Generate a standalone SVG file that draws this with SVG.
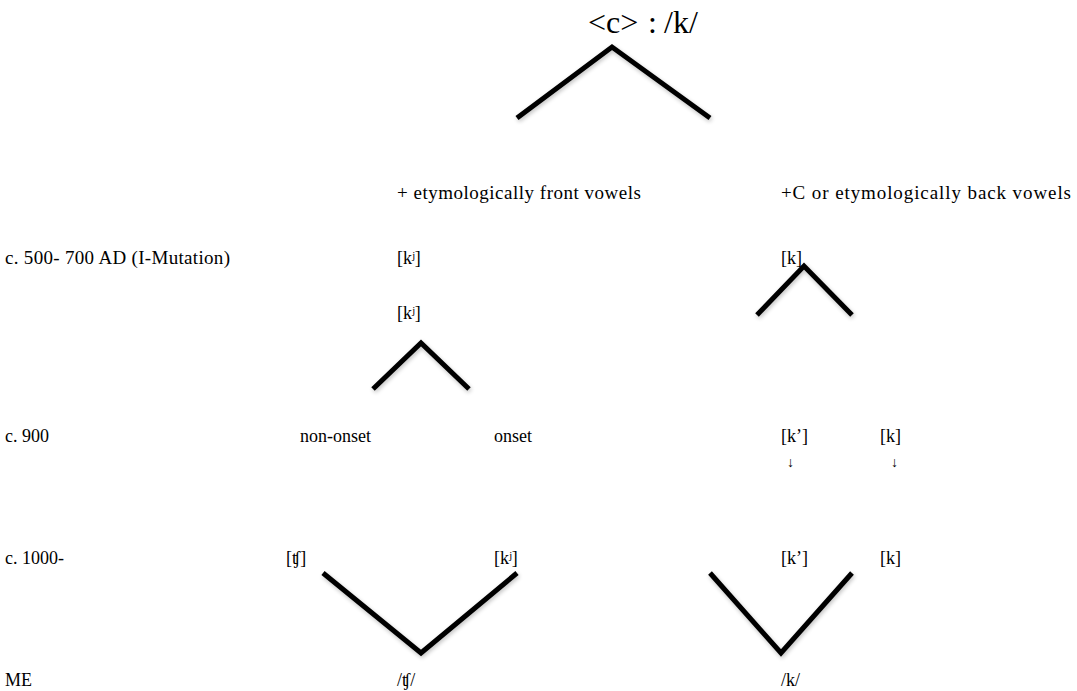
<svg xmlns="http://www.w3.org/2000/svg" width="1077" height="691" viewBox="0 0 1077 691">
<defs>
<filter id="sh" x="-20%" y="-20%" width="140%" height="140%"><feGaussianBlur in="SourceAlpha" stdDeviation="2"/><feOffset dx="1" dy="2"/><feComponentTransfer><feFuncA type="linear" slope="0.25"/></feComponentTransfer><feMerge><feMergeNode/><feMergeNode in="SourceGraphic"/></feMerge></filter>
</defs>
<style>
text{font-family:"Liberation Serif","Times New Roman",serif;font-size:18px;fill:#000}
.lg{font-size:19px}
.big{font-size:32px}
.arr{font-size:14px}
.ln{fill:none;stroke:#000;stroke-width:5;stroke-linejoin:miter;filter:url(#sh)}
</style>
<rect width="1077" height="691" fill="#fff"/>
<g id="connectors">
<polyline class="ln" points="517,118 612,47 710,118"/>
<polyline class="ln" points="757,315 804,266 852,315"/>
<polyline class="ln" points="373,389 421,343 469,389"/>
<polyline class="ln" points="323,573 421,653 517,573"/>
<polyline class="ln" points="710,573 781,653 852,573"/>
</g>
<g id="title"><text class="big" y="33"><tspan x="588">&lt;c&gt;</tspan><tspan x="648">:</tspan><tspan x="664">/k/</tspan></text></g>
<g id="front"><text class="lg" x="397" y="199" textLength="244" lengthAdjust="spacing">+ etymologically front vowels</text></g>
<g id="back"><text class="lg" x="781" y="199" textLength="290" lengthAdjust="spacing">+C or etymologically back vowels</text></g>
<g id="row1">
<text class="lg" x="5" y="264" textLength="225" lengthAdjust="spacing">c. 500- 700 AD (I-Mutation)</text>
<text x="397" y="264">[kʲ]</text>
<text x="781" y="264">[k]</text>
</g>
<g id="kj2"><text x="397" y="319">[kʲ]</text></g>
<g id="row900">
<text x="5" y="442">c. 900</text>
<text x="300" y="442">non-onset</text>
<text x="494" y="442">onset</text>
<text x="781" y="442">[k’]</text>
<text x="880" y="442">[k]</text>
<text class="arr" x="787" y="467">↓</text>
<text class="arr" x="891" y="467">↓</text>
</g>
<g id="row1000">
<text x="5" y="564">c. 1000-</text>
<text x="286" y="564">[ʧ]</text>
<text x="494" y="564">[kʲ]</text>
<text x="781" y="564">[k’]</text>
<text x="880" y="564">[k]</text>
</g>
<g id="rowME">
<text x="5" y="686">ME</text>
<text x="397" y="686">/ʧ/</text>
<text x="781" y="686">/k/</text>
</g>
</svg>
